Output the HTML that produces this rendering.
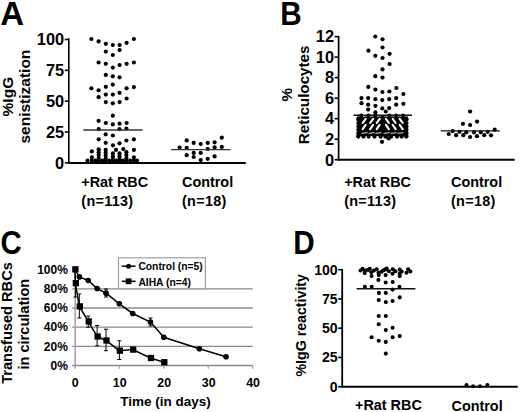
<!DOCTYPE html>
<html><head><meta charset="utf-8"><style>
html,body{margin:0;padding:0;background:#fff;overflow:hidden;width:520px;height:412px;}
svg{display:block;}
text{font-family:'Liberation Sans',sans-serif;font-weight:bold;fill:#000;}
</style></head><body>
<svg width="520" height="412" viewBox="0 0 520 412">
<rect width="520" height="412" fill="#fff"/>
<text x="0.30" y="24.50" font-size="33" text-anchor="start" >A</text>
<line x1="68.80" y1="38.30" x2="68.80" y2="163.50" stroke="#000" stroke-width="1.6"/>
<line x1="64.80" y1="162.80" x2="68.80" y2="162.80" stroke="#000" stroke-width="1.6"/>
<text x="64.20" y="168.60" font-size="16.4" text-anchor="end" >0</text>
<line x1="64.80" y1="131.98" x2="68.80" y2="131.98" stroke="#000" stroke-width="1.6"/>
<text x="64.20" y="137.78" font-size="16.4" text-anchor="end" >25</text>
<line x1="64.80" y1="101.15" x2="68.80" y2="101.15" stroke="#000" stroke-width="1.6"/>
<text x="64.20" y="106.95" font-size="16.4" text-anchor="end" >50</text>
<line x1="64.80" y1="70.33" x2="68.80" y2="70.33" stroke="#000" stroke-width="1.6"/>
<text x="64.20" y="76.13" font-size="16.4" text-anchor="end" >75</text>
<line x1="64.80" y1="39.50" x2="68.80" y2="39.50" stroke="#000" stroke-width="1.6"/>
<text x="64.20" y="45.30" font-size="16.4" text-anchor="end" >100</text>
<line x1="68.00" y1="163.00" x2="245.80" y2="163.00" stroke="#000" stroke-width="2.0"/>
<text transform="translate(13.40,96.60) rotate(-90)" x="0" y="0" font-size="15.5" text-anchor="middle">%IgG</text>
<text transform="translate(29.60,96.60) rotate(-90)" x="0" y="0" font-size="15.5" text-anchor="middle">senistization</text>
<text x="81.30" y="186.70" font-size="14.4" text-anchor="start" >+Rat RBC</text>
<text x="81.30" y="205.60" font-size="14.4" text-anchor="start" letter-spacing="0.3">(n=113)</text>
<text x="182.00" y="186.90" font-size="14.4" text-anchor="start" >Control</text>
<text x="182.00" y="205.60" font-size="14.4" text-anchor="start" letter-spacing="0.3">(n=18)</text>
<circle cx="91.40" cy="39.00" r="2.1"/>
<circle cx="98.60" cy="41.40" r="2.1"/>
<circle cx="105.80" cy="43.80" r="2.1"/>
<circle cx="112.80" cy="45.00" r="2.1"/>
<circle cx="119.60" cy="45.00" r="2.1"/>
<circle cx="126.60" cy="42.80" r="2.1"/>
<circle cx="133.90" cy="39.00" r="2.1"/>
<circle cx="105.80" cy="51.60" r="2.1"/>
<circle cx="119.60" cy="50.10" r="2.1"/>
<circle cx="112.80" cy="55.00" r="2.1"/>
<circle cx="98.60" cy="62.50" r="2.1"/>
<circle cx="105.80" cy="63.80" r="2.1"/>
<circle cx="112.80" cy="67.60" r="2.1"/>
<circle cx="119.60" cy="65.00" r="2.1"/>
<circle cx="126.60" cy="63.80" r="2.1"/>
<circle cx="133.90" cy="62.50" r="2.1"/>
<circle cx="105.80" cy="74.90" r="2.1"/>
<circle cx="112.80" cy="76.30" r="2.1"/>
<circle cx="119.60" cy="77.30" r="2.1"/>
<circle cx="112.80" cy="84.60" r="2.1"/>
<circle cx="105.80" cy="86.80" r="2.1"/>
<circle cx="91.40" cy="88.30" r="2.1"/>
<circle cx="98.60" cy="90.30" r="2.1"/>
<circle cx="126.60" cy="88.30" r="2.1"/>
<circle cx="133.90" cy="87.10" r="2.1"/>
<circle cx="119.60" cy="92.80" r="2.1"/>
<circle cx="98.60" cy="97.20" r="2.1"/>
<circle cx="105.80" cy="94.60" r="2.1"/>
<circle cx="112.80" cy="94.60" r="2.1"/>
<circle cx="126.60" cy="98.50" r="2.1"/>
<circle cx="105.80" cy="102.10" r="2.1"/>
<circle cx="112.80" cy="103.30" r="2.1"/>
<circle cx="119.60" cy="102.10" r="2.1"/>
<circle cx="112.80" cy="115.70" r="2.1"/>
<circle cx="98.60" cy="120.80" r="2.1"/>
<circle cx="105.80" cy="123.00" r="2.1"/>
<circle cx="112.80" cy="124.40" r="2.1"/>
<circle cx="119.60" cy="123.70" r="2.1"/>
<circle cx="126.60" cy="123.00" r="2.1"/>
<circle cx="98.70" cy="129.20" r="2.1"/>
<circle cx="119.50" cy="129.20" r="2.1"/>
<circle cx="126.40" cy="128.60" r="2.1"/>
<circle cx="105.70" cy="134.30" r="2.1"/>
<circle cx="112.90" cy="135.50" r="2.1"/>
<circle cx="98.70" cy="139.30" r="2.1"/>
<circle cx="126.40" cy="140.50" r="2.1"/>
<circle cx="133.90" cy="139.30" r="2.1"/>
<circle cx="105.70" cy="142.80" r="2.1"/>
<circle cx="112.90" cy="145.30" r="2.1"/>
<circle cx="119.50" cy="143.30" r="2.1"/>
<circle cx="91.80" cy="151.40" r="2.1"/>
<circle cx="98.70" cy="149.30" r="2.1"/>
<circle cx="105.70" cy="149.90" r="2.1"/>
<circle cx="116.00" cy="149.90" r="2.1"/>
<circle cx="123.30" cy="149.10" r="2.1"/>
<circle cx="133.90" cy="149.90" r="2.1"/>
<circle cx="98.70" cy="152.20" r="2.1"/>
<circle cx="98.70" cy="155.10" r="2.1"/>
<circle cx="98.70" cy="158.00" r="2.1"/>
<circle cx="105.70" cy="152.80" r="2.1"/>
<circle cx="105.70" cy="155.70" r="2.1"/>
<circle cx="105.70" cy="158.60" r="2.1"/>
<circle cx="112.90" cy="153.40" r="2.1"/>
<circle cx="112.90" cy="156.30" r="2.1"/>
<circle cx="112.90" cy="159.20" r="2.1"/>
<circle cx="119.50" cy="153.40" r="2.1"/>
<circle cx="119.50" cy="156.30" r="2.1"/>
<circle cx="119.50" cy="159.20" r="2.1"/>
<circle cx="126.40" cy="152.20" r="2.1"/>
<circle cx="126.40" cy="155.10" r="2.1"/>
<circle cx="126.40" cy="158.00" r="2.1"/>
<circle cx="133.90" cy="157.40" r="2.1"/>
<circle cx="91.80" cy="157.40" r="2.1"/>
<circle cx="87.50" cy="160.60" r="2.1"/>
<circle cx="91.80" cy="160.60" r="2.1"/>
<circle cx="95.30" cy="160.60" r="2.1"/>
<circle cx="98.70" cy="160.60" r="2.1"/>
<circle cx="102.20" cy="160.60" r="2.1"/>
<circle cx="105.70" cy="160.60" r="2.1"/>
<circle cx="109.30" cy="160.60" r="2.1"/>
<circle cx="112.90" cy="160.60" r="2.1"/>
<circle cx="116.20" cy="160.60" r="2.1"/>
<circle cx="119.50" cy="160.60" r="2.1"/>
<circle cx="123.00" cy="160.60" r="2.1"/>
<circle cx="126.40" cy="160.60" r="2.1"/>
<circle cx="130.10" cy="160.60" r="2.1"/>
<circle cx="133.90" cy="160.60" r="2.1"/>
<circle cx="137.00" cy="160.60" r="2.1"/>
<line x1="83.30" y1="130.00" x2="142.60" y2="130.00" stroke="#333" stroke-width="1.4"/>
<circle cx="179.60" cy="147.60" r="2.1"/>
<circle cx="186.70" cy="140.40" r="2.1"/>
<circle cx="186.70" cy="147.80" r="2.1"/>
<circle cx="186.70" cy="155.20" r="2.1"/>
<circle cx="193.70" cy="142.90" r="2.1"/>
<circle cx="193.70" cy="152.90" r="2.1"/>
<circle cx="193.70" cy="157.00" r="2.1"/>
<circle cx="200.70" cy="144.00" r="2.1"/>
<circle cx="200.70" cy="152.90" r="2.1"/>
<circle cx="200.70" cy="160.10" r="2.1"/>
<circle cx="207.70" cy="142.90" r="2.1"/>
<circle cx="207.70" cy="149.00" r="2.1"/>
<circle cx="207.70" cy="158.80" r="2.1"/>
<circle cx="214.60" cy="142.30" r="2.1"/>
<circle cx="214.60" cy="147.30" r="2.1"/>
<circle cx="214.60" cy="156.40" r="2.1"/>
<circle cx="221.80" cy="137.70" r="2.1"/>
<circle cx="221.80" cy="146.90" r="2.1"/>
<line x1="171.00" y1="149.60" x2="230.60" y2="149.60" stroke="#333" stroke-width="1.4"/>
<text transform="translate(280.30,25.00) scale(0.9,1)" x="0" y="0" font-size="33">B</text>
<line x1="338.60" y1="36.00" x2="338.60" y2="160.60" stroke="#000" stroke-width="1.7"/>
<line x1="334.60" y1="159.70" x2="338.60" y2="159.70" stroke="#000" stroke-width="1.6"/>
<text x="334.00" y="165.50" font-size="16.4" text-anchor="end" >0</text>
<line x1="334.60" y1="139.18" x2="338.60" y2="139.18" stroke="#000" stroke-width="1.6"/>
<text x="334.00" y="144.98" font-size="16.4" text-anchor="end" >2</text>
<line x1="334.60" y1="118.67" x2="338.60" y2="118.67" stroke="#000" stroke-width="1.6"/>
<text x="334.00" y="124.47" font-size="16.4" text-anchor="end" >4</text>
<line x1="334.60" y1="98.15" x2="338.60" y2="98.15" stroke="#000" stroke-width="1.6"/>
<text x="334.00" y="103.95" font-size="16.4" text-anchor="end" >6</text>
<line x1="334.60" y1="77.63" x2="338.60" y2="77.63" stroke="#000" stroke-width="1.6"/>
<text x="334.00" y="83.43" font-size="16.4" text-anchor="end" >8</text>
<line x1="334.60" y1="57.12" x2="338.60" y2="57.12" stroke="#000" stroke-width="1.6"/>
<text x="334.00" y="62.92" font-size="16.4" text-anchor="end" >10</text>
<line x1="334.60" y1="36.60" x2="338.60" y2="36.60" stroke="#000" stroke-width="1.6"/>
<text x="334.00" y="42.40" font-size="16.4" text-anchor="end" >12</text>
<line x1="337.80" y1="159.70" x2="514.70" y2="159.70" stroke="#000" stroke-width="2.0"/>
<text transform="translate(291.80,94.80) rotate(-90)" x="0" y="0" font-size="15.2" text-anchor="middle">%</text>
<text transform="translate(308.60,94.90) rotate(-90)" x="0" y="0" font-size="15.2" text-anchor="middle">Reticulocytes</text>
<text x="344.20" y="187.20" font-size="14.4" text-anchor="start" >+Rat RBC</text>
<text x="344.20" y="205.70" font-size="14.4" text-anchor="start" letter-spacing="0.3">(n=113)</text>
<text x="451.00" y="186.90" font-size="14.4" text-anchor="start" >Control</text>
<text x="451.00" y="205.60" font-size="14.4" text-anchor="start" letter-spacing="0.3">(n=18)</text>
<rect x="359.5" y="119" width="46" height="17"/>
<circle cx="358.40" cy="119.60" r="2.1"/>
<circle cx="406.50" cy="119.60" r="2.1"/>
<circle cx="358.40" cy="123.00" r="2.1"/>
<circle cx="406.50" cy="123.00" r="2.1"/>
<circle cx="358.40" cy="126.40" r="2.1"/>
<circle cx="406.50" cy="126.40" r="2.1"/>
<circle cx="358.40" cy="129.80" r="2.1"/>
<circle cx="406.50" cy="129.80" r="2.1"/>
<circle cx="358.40" cy="133.20" r="2.1"/>
<circle cx="406.50" cy="133.20" r="2.1"/>
<circle cx="358.40" cy="136.00" r="2.1"/>
<circle cx="406.50" cy="136.00" r="2.1"/>
<circle cx="361.20" cy="115.60" r="2.1"/>
<circle cx="368.60" cy="115.60" r="2.1"/>
<circle cx="375.30" cy="115.60" r="2.1"/>
<circle cx="389.40" cy="115.60" r="2.1"/>
<circle cx="396.10" cy="115.60" r="2.1"/>
<circle cx="403.10" cy="115.60" r="2.1"/>
<circle cx="358.60" cy="118.40" r="2.1"/>
<circle cx="362.00" cy="118.40" r="2.1"/>
<circle cx="365.50" cy="118.40" r="2.1"/>
<circle cx="369.00" cy="118.40" r="2.1"/>
<circle cx="372.50" cy="118.40" r="2.1"/>
<circle cx="376.00" cy="118.40" r="2.1"/>
<circle cx="379.40" cy="118.40" r="2.1"/>
<circle cx="385.60" cy="118.40" r="2.1"/>
<circle cx="389.00" cy="118.40" r="2.1"/>
<circle cx="392.50" cy="118.40" r="2.1"/>
<circle cx="396.00" cy="118.40" r="2.1"/>
<circle cx="399.50" cy="118.40" r="2.1"/>
<circle cx="403.00" cy="118.40" r="2.1"/>
<circle cx="406.30" cy="118.40" r="2.1"/>
<circle cx="382.50" cy="117.40" r="2.1"/>
<line x1="362.70" y1="123.00" x2="365.70" y2="118.80" stroke="#fff" stroke-width="2.1" stroke-linecap="round"/>
<line x1="370.10" y1="123.00" x2="373.10" y2="118.80" stroke="#fff" stroke-width="2.1" stroke-linecap="round"/>
<line x1="376.70" y1="123.00" x2="379.70" y2="118.80" stroke="#fff" stroke-width="2.1" stroke-linecap="round"/>
<line x1="388.90" y1="123.00" x2="385.90" y2="118.80" stroke="#fff" stroke-width="2.1" stroke-linecap="round"/>
<line x1="395.70" y1="123.00" x2="392.70" y2="118.80" stroke="#fff" stroke-width="2.1" stroke-linecap="round"/>
<line x1="402.70" y1="123.00" x2="399.70" y2="118.80" stroke="#fff" stroke-width="2.1" stroke-linecap="round"/>
<line x1="362.70" y1="129.10" x2="365.70" y2="124.90" stroke="#fff" stroke-width="2.1" stroke-linecap="round"/>
<line x1="370.10" y1="129.10" x2="373.10" y2="124.90" stroke="#fff" stroke-width="2.1" stroke-linecap="round"/>
<line x1="376.70" y1="129.10" x2="379.70" y2="124.90" stroke="#fff" stroke-width="2.1" stroke-linecap="round"/>
<line x1="388.90" y1="129.10" x2="385.90" y2="124.90" stroke="#fff" stroke-width="2.1" stroke-linecap="round"/>
<line x1="395.70" y1="129.10" x2="392.70" y2="124.90" stroke="#fff" stroke-width="2.1" stroke-linecap="round"/>
<line x1="402.70" y1="129.10" x2="399.70" y2="124.90" stroke="#fff" stroke-width="2.1" stroke-linecap="round"/>
<line x1="362.10" y1="133.40" x2="367.10" y2="132.60" stroke="#b0b0b0" stroke-width="1.3" stroke-linecap="round"/>
<line x1="369.10" y1="133.40" x2="374.10" y2="132.60" stroke="#b0b0b0" stroke-width="1.3" stroke-linecap="round"/>
<line x1="375.90" y1="133.40" x2="380.90" y2="132.60" stroke="#b0b0b0" stroke-width="1.3" stroke-linecap="round"/>
<line x1="384.10" y1="133.40" x2="389.10" y2="132.60" stroke="#b0b0b0" stroke-width="1.3" stroke-linecap="round"/>
<line x1="391.00" y1="133.40" x2="396.00" y2="132.60" stroke="#b0b0b0" stroke-width="1.3" stroke-linecap="round"/>
<line x1="398.00" y1="133.40" x2="403.00" y2="132.60" stroke="#b0b0b0" stroke-width="1.3" stroke-linecap="round"/>
<circle cx="375.30" cy="36.50" r="2.1"/>
<circle cx="382.50" cy="39.30" r="2.1"/>
<circle cx="382.50" cy="47.50" r="2.1"/>
<circle cx="368.40" cy="50.70" r="2.1"/>
<circle cx="375.30" cy="55.80" r="2.1"/>
<circle cx="382.50" cy="58.00" r="2.1"/>
<circle cx="389.60" cy="53.80" r="2.1"/>
<circle cx="389.60" cy="64.00" r="2.1"/>
<circle cx="382.50" cy="69.40" r="2.1"/>
<circle cx="375.30" cy="76.20" r="2.1"/>
<circle cx="382.50" cy="77.60" r="2.1"/>
<circle cx="368.30" cy="86.90" r="2.1"/>
<circle cx="375.40" cy="89.60" r="2.1"/>
<circle cx="382.40" cy="92.00" r="2.1"/>
<circle cx="389.40" cy="91.50" r="2.1"/>
<circle cx="396.40" cy="88.00" r="2.1"/>
<circle cx="403.40" cy="94.00" r="2.1"/>
<circle cx="361.50" cy="98.10" r="2.1"/>
<circle cx="368.20" cy="98.10" r="2.1"/>
<circle cx="375.40" cy="99.20" r="2.1"/>
<circle cx="382.30" cy="100.10" r="2.1"/>
<circle cx="389.20" cy="99.20" r="2.1"/>
<circle cx="396.20" cy="98.10" r="2.1"/>
<circle cx="361.50" cy="103.20" r="2.1"/>
<circle cx="368.20" cy="104.70" r="2.1"/>
<circle cx="375.40" cy="105.80" r="2.1"/>
<circle cx="382.30" cy="108.40" r="2.1"/>
<circle cx="389.20" cy="108.10" r="2.1"/>
<circle cx="396.20" cy="104.70" r="2.1"/>
<circle cx="403.40" cy="103.80" r="2.1"/>
<circle cx="368.20" cy="109.60" r="2.1"/>
<circle cx="375.40" cy="112.40" r="2.1"/>
<circle cx="385.80" cy="111.50" r="2.1"/>
<circle cx="358.30" cy="136.60" r="2.1"/>
<circle cx="363.50" cy="136.60" r="2.1"/>
<circle cx="368.70" cy="136.60" r="2.1"/>
<circle cx="374.50" cy="136.60" r="2.1"/>
<circle cx="380.60" cy="136.60" r="2.1"/>
<circle cx="386.60" cy="136.60" r="2.1"/>
<circle cx="391.20" cy="136.60" r="2.1"/>
<circle cx="397.00" cy="136.60" r="2.1"/>
<circle cx="401.60" cy="136.60" r="2.1"/>
<circle cx="406.20" cy="136.60" r="2.1"/>
<circle cx="382.00" cy="141.80" r="2.1"/>
<circle cx="385.40" cy="136.40" r="2.1"/>
<circle cx="388.70" cy="138.50" r="2.1"/>
<line x1="353.50" y1="115.20" x2="412.00" y2="115.20" stroke="#111" stroke-width="1.4"/>
<circle cx="470.10" cy="111.50" r="2.1"/>
<circle cx="462.90" cy="123.80" r="2.1"/>
<circle cx="470.10" cy="125.00" r="2.1"/>
<circle cx="477.00" cy="121.60" r="2.1"/>
<circle cx="452.70" cy="131.10" r="2.1"/>
<circle cx="459.50" cy="131.80" r="2.1"/>
<circle cx="466.30" cy="132.30" r="2.1"/>
<circle cx="474.00" cy="132.30" r="2.1"/>
<circle cx="480.80" cy="132.30" r="2.1"/>
<circle cx="487.60" cy="131.80" r="2.1"/>
<circle cx="494.70" cy="129.70" r="2.1"/>
<circle cx="448.80" cy="134.00" r="2.1"/>
<circle cx="456.10" cy="135.20" r="2.1"/>
<circle cx="463.30" cy="135.20" r="2.1"/>
<circle cx="470.10" cy="137.00" r="2.1"/>
<circle cx="477.00" cy="136.20" r="2.1"/>
<circle cx="484.20" cy="135.20" r="2.1"/>
<circle cx="491.00" cy="135.30" r="2.1"/>
<line x1="440.80" y1="130.90" x2="499.80" y2="130.90" stroke="#111" stroke-width="1.4"/>
<text transform="translate(0.50,254.40) scale(0.89,1)" x="0" y="0" font-size="33">C</text>
<line x1="72.20" y1="346.34" x2="252.70" y2="346.34" stroke="#8a8a8a" stroke-width="1.3"/>
<line x1="72.20" y1="327.18" x2="252.70" y2="327.18" stroke="#8a8a8a" stroke-width="1.3"/>
<line x1="72.20" y1="308.02" x2="252.70" y2="308.02" stroke="#8a8a8a" stroke-width="1.3"/>
<line x1="72.20" y1="288.86" x2="252.70" y2="288.86" stroke="#8a8a8a" stroke-width="1.3"/>
<line x1="72.20" y1="365.50" x2="252.70" y2="365.50" stroke="#8a8a8a" stroke-width="1.4"/>
<line x1="75.20" y1="269.50" x2="75.20" y2="368.80" stroke="#a5a5a5" stroke-width="1.6"/>
<line x1="72.20" y1="269.70" x2="75.20" y2="269.70" stroke="#a5a5a5" stroke-width="1.3"/>
<line x1="119.35" y1="365.50" x2="119.35" y2="368.80" stroke="#a5a5a5" stroke-width="1.3"/>
<line x1="163.80" y1="365.50" x2="163.80" y2="368.80" stroke="#a5a5a5" stroke-width="1.3"/>
<line x1="208.25" y1="365.50" x2="208.25" y2="368.80" stroke="#a5a5a5" stroke-width="1.3"/>
<line x1="252.70" y1="365.50" x2="252.70" y2="368.80" stroke="#a5a5a5" stroke-width="1.3"/>
<text x="67.90" y="369.80" font-size="12" text-anchor="end" >0%</text>
<text x="67.90" y="350.64" font-size="12" text-anchor="end" >20%</text>
<text x="67.90" y="331.48" font-size="12" text-anchor="end" >40%</text>
<text x="67.90" y="312.32" font-size="12" text-anchor="end" >60%</text>
<text x="67.90" y="293.16" font-size="12" text-anchor="end" >80%</text>
<text x="67.90" y="274.00" font-size="12" text-anchor="end" >100%</text>
<text x="75.30" y="386.80" font-size="12.4" text-anchor="middle" >0</text>
<text x="119.75" y="386.80" font-size="12.4" text-anchor="middle" >10</text>
<text x="164.20" y="386.80" font-size="12.4" text-anchor="middle" >20</text>
<text x="208.65" y="386.80" font-size="12.4" text-anchor="middle" >30</text>
<text x="253.10" y="386.80" font-size="12.4" text-anchor="middle" >40</text>
<text x="165.60" y="406.30" font-size="13.5" text-anchor="middle" >Time (in days)</text>
<text transform="translate(12.20,323.00) rotate(-90)" x="0" y="0" font-size="14.6" text-anchor="middle">Transfused RBCs</text>
<text transform="translate(28.80,324.20) rotate(-90)" x="0" y="0" font-size="14.6" text-anchor="middle">in circulation</text>
<polyline points="74.90,269.70 79.34,276.88 88.23,280.43 97.12,288.57 106.02,293.17 119.35,303.80 132.69,313.48 150.47,322.01 163.80,337.24 199.36,348.74 226.03,356.78" fill="none" stroke="#000" stroke-width="1.5"/>
<polyline points="74.90,269.32 75.34,283.11 79.34,306.39 88.23,321.43 97.12,336.47 106.02,340.50 119.35,350.65 132.69,349.60 150.47,358.03 163.80,362.24" fill="none" stroke="#000" stroke-width="1.5"/>
<line x1="75.34" y1="283.00" x2="75.34" y2="297.00" stroke="#000" stroke-width="1.0"/>
<line x1="73.34" y1="283.00" x2="77.34" y2="283.00" stroke="#000" stroke-width="1.0"/>
<line x1="73.34" y1="297.00" x2="77.34" y2="297.00" stroke="#000" stroke-width="1.0"/>
<line x1="79.34" y1="294.00" x2="79.34" y2="318.00" stroke="#000" stroke-width="1.0"/>
<line x1="77.34" y1="294.00" x2="81.34" y2="294.00" stroke="#000" stroke-width="1.0"/>
<line x1="77.34" y1="318.00" x2="81.34" y2="318.00" stroke="#000" stroke-width="1.0"/>
<line x1="88.23" y1="316.10" x2="88.23" y2="327.20" stroke="#000" stroke-width="1.0"/>
<line x1="86.23" y1="316.10" x2="90.23" y2="316.10" stroke="#000" stroke-width="1.0"/>
<line x1="86.23" y1="327.20" x2="90.23" y2="327.20" stroke="#000" stroke-width="1.0"/>
<line x1="97.12" y1="325.50" x2="97.12" y2="345.90" stroke="#000" stroke-width="1.0"/>
<line x1="95.12" y1="325.50" x2="99.12" y2="325.50" stroke="#000" stroke-width="1.0"/>
<line x1="95.12" y1="345.90" x2="99.12" y2="345.90" stroke="#000" stroke-width="1.0"/>
<line x1="106.02" y1="329.20" x2="106.02" y2="350.70" stroke="#000" stroke-width="1.0"/>
<line x1="104.02" y1="329.20" x2="108.02" y2="329.20" stroke="#000" stroke-width="1.0"/>
<line x1="104.02" y1="350.70" x2="108.02" y2="350.70" stroke="#000" stroke-width="1.0"/>
<line x1="119.35" y1="340.80" x2="119.35" y2="359.50" stroke="#000" stroke-width="1.0"/>
<line x1="117.35" y1="340.80" x2="121.35" y2="340.80" stroke="#000" stroke-width="1.0"/>
<line x1="117.35" y1="359.50" x2="121.35" y2="359.50" stroke="#000" stroke-width="1.0"/>
<line x1="106.02" y1="289.00" x2="106.02" y2="297.00" stroke="#000" stroke-width="1.0"/>
<line x1="104.02" y1="289.00" x2="108.02" y2="289.00" stroke="#000" stroke-width="1.0"/>
<line x1="104.02" y1="297.00" x2="108.02" y2="297.00" stroke="#000" stroke-width="1.0"/>
<line x1="150.47" y1="318.00" x2="150.47" y2="326.00" stroke="#000" stroke-width="1.0"/>
<line x1="148.47" y1="318.00" x2="152.47" y2="318.00" stroke="#000" stroke-width="1.0"/>
<line x1="148.47" y1="326.00" x2="152.47" y2="326.00" stroke="#000" stroke-width="1.0"/>
<circle cx="79.34" cy="276.88" r="2.8"/>
<circle cx="88.23" cy="280.43" r="2.8"/>
<circle cx="97.12" cy="288.57" r="2.8"/>
<circle cx="106.02" cy="293.17" r="2.8"/>
<circle cx="119.35" cy="303.80" r="2.8"/>
<circle cx="132.69" cy="313.48" r="2.8"/>
<circle cx="150.47" cy="322.01" r="2.8"/>
<circle cx="163.80" cy="337.24" r="2.8"/>
<circle cx="199.36" cy="348.74" r="2.8"/>
<circle cx="226.03" cy="356.78" r="2.8"/>
<rect x="72.25" y="266.17" width="6.3" height="6.3"/>
<rect x="72.69" y="279.96" width="6.3" height="6.3"/>
<rect x="76.69" y="303.24" width="6.3" height="6.3"/>
<rect x="85.58" y="318.28" width="6.3" height="6.3"/>
<rect x="94.47" y="333.32" width="6.3" height="6.3"/>
<rect x="103.36" y="337.35" width="6.3" height="6.3"/>
<rect x="116.70" y="347.50" width="6.3" height="6.3"/>
<rect x="130.03" y="346.45" width="6.3" height="6.3"/>
<rect x="147.81" y="354.88" width="6.3" height="6.3"/>
<rect x="161.15" y="359.09" width="6.3" height="6.3"/>
<rect x="118.5" y="257.8" width="86.9" height="30.9" fill="#fff" stroke="#a0a0a0" stroke-width="1.2"/>
<line x1="121.80" y1="266.20" x2="135.60" y2="266.20" stroke="#000" stroke-width="1.5"/>
<circle cx="128.60" cy="266.20" r="2.5"/>
<line x1="121.80" y1="281.30" x2="135.60" y2="281.30" stroke="#000" stroke-width="1.5"/>
<rect x="125.70" y="278.40" width="5.8" height="5.8"/>
<text x="138.40" y="270.40" font-size="10.3" text-anchor="start" >Control (n=5)</text>
<text x="138.40" y="286.00" font-size="10.3" text-anchor="start" >AIHA (n=4)</text>
<text transform="translate(293.20,253.60) scale(0.9,1)" x="0" y="0" font-size="33">D</text>
<line x1="342.20" y1="269.00" x2="342.20" y2="387.50" stroke="#000" stroke-width="1.8"/>
<line x1="338.20" y1="386.70" x2="342.20" y2="386.70" stroke="#000" stroke-width="1.6"/>
<text x="337.70" y="391.70" font-size="14.1" text-anchor="end" >0</text>
<line x1="338.20" y1="357.45" x2="342.20" y2="357.45" stroke="#000" stroke-width="1.6"/>
<text x="337.70" y="362.45" font-size="14.1" text-anchor="end" >25</text>
<line x1="338.20" y1="328.20" x2="342.20" y2="328.20" stroke="#000" stroke-width="1.6"/>
<text x="337.70" y="333.20" font-size="14.1" text-anchor="end" >50</text>
<line x1="338.20" y1="298.95" x2="342.20" y2="298.95" stroke="#000" stroke-width="1.6"/>
<text x="337.70" y="303.95" font-size="14.1" text-anchor="end" >75</text>
<line x1="338.20" y1="269.70" x2="342.20" y2="269.70" stroke="#000" stroke-width="1.6"/>
<text x="337.70" y="274.70" font-size="14.1" text-anchor="end" >100</text>
<line x1="341.40" y1="386.70" x2="517.70" y2="386.70" stroke="#000" stroke-width="2.0"/>
<text transform="translate(305.90,325.30) rotate(-90)" x="0" y="0" font-size="14.2" text-anchor="middle">%IgG reactivity</text>
<text x="355.00" y="410.30" font-size="14.4" text-anchor="start" >+Rat RBC</text>
<text x="451.50" y="410.60" font-size="14.4" text-anchor="start" >Control</text>
<circle cx="360.60" cy="270.50" r="2.05"/>
<circle cx="362.60" cy="268.80" r="2.05"/>
<circle cx="364.70" cy="273.10" r="2.05"/>
<circle cx="365.20" cy="270.50" r="2.05"/>
<circle cx="368.10" cy="269.90" r="2.05"/>
<circle cx="369.80" cy="268.80" r="2.05"/>
<circle cx="371.30" cy="272.20" r="2.05"/>
<circle cx="371.60" cy="276.00" r="2.05"/>
<circle cx="373.90" cy="270.50" r="2.05"/>
<circle cx="376.80" cy="269.30" r="2.05"/>
<circle cx="378.50" cy="272.80" r="2.05"/>
<circle cx="378.80" cy="275.10" r="2.05"/>
<circle cx="381.40" cy="271.70" r="2.05"/>
<circle cx="384.90" cy="269.60" r="2.05"/>
<circle cx="383.00" cy="270.50" r="2.05"/>
<circle cx="386.60" cy="268.60" r="2.05"/>
<circle cx="388.90" cy="271.20" r="2.05"/>
<circle cx="385.60" cy="275.10" r="2.05"/>
<circle cx="392.80" cy="269.20" r="2.05"/>
<circle cx="392.50" cy="273.80" r="2.05"/>
<circle cx="395.40" cy="271.20" r="2.05"/>
<circle cx="399.70" cy="269.50" r="2.05"/>
<circle cx="399.70" cy="276.10" r="2.05"/>
<circle cx="401.60" cy="271.50" r="2.05"/>
<circle cx="399.70" cy="273.50" r="2.05"/>
<circle cx="406.50" cy="272.80" r="2.05"/>
<circle cx="408.20" cy="269.20" r="2.05"/>
<circle cx="410.40" cy="271.50" r="2.05"/>
<circle cx="378.40" cy="279.90" r="2.05"/>
<circle cx="385.70" cy="282.50" r="2.05"/>
<circle cx="392.70" cy="282.00" r="2.05"/>
<circle cx="364.90" cy="286.70" r="2.05"/>
<circle cx="371.70" cy="286.70" r="2.05"/>
<circle cx="392.60" cy="289.60" r="2.05"/>
<circle cx="399.50" cy="286.70" r="2.05"/>
<circle cx="378.90" cy="292.90" r="2.05"/>
<circle cx="385.80" cy="292.90" r="2.05"/>
<circle cx="378.70" cy="300.10" r="2.05"/>
<circle cx="385.80" cy="302.10" r="2.05"/>
<circle cx="392.60" cy="301.00" r="2.05"/>
<circle cx="399.70" cy="297.40" r="2.05"/>
<circle cx="378.70" cy="316.00" r="2.05"/>
<circle cx="385.80" cy="316.00" r="2.05"/>
<circle cx="378.70" cy="324.20" r="2.05"/>
<circle cx="385.80" cy="330.10" r="2.05"/>
<circle cx="392.60" cy="327.80" r="2.05"/>
<circle cx="371.60" cy="337.30" r="2.05"/>
<circle cx="378.70" cy="340.80" r="2.05"/>
<circle cx="385.80" cy="341.90" r="2.05"/>
<circle cx="392.60" cy="337.30" r="2.05"/>
<circle cx="399.70" cy="336.10" r="2.05"/>
<circle cx="385.80" cy="353.60" r="2.05"/>
<line x1="356.50" y1="288.80" x2="415.40" y2="288.80" stroke="#111" stroke-width="1.4"/>
<circle cx="466.50" cy="384.90" r="2.0"/>
<circle cx="473.10" cy="386.30" r="2.0"/>
<circle cx="480.00" cy="386.30" r="2.0"/>
<circle cx="487.40" cy="384.90" r="2.0"/>
</svg>
</body></html>
